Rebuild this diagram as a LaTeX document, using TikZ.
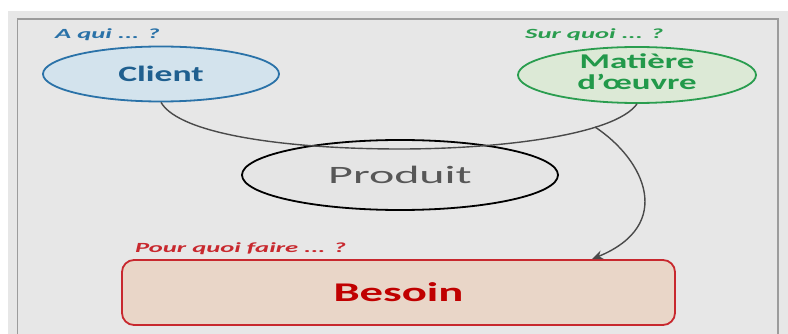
\documentclass[tikz,border=0pt]{standalone}
\usepackage{fontspec}
\setmainfont{Carlito}
\usetikzlibrary{shapes.geometric,arrows.meta}
\definecolor{panel}{HTML}{E7E7E7}
\definecolor{frame}{HTML}{9C9C9C}
\definecolor{cfill}{HTML}{D3E3ED}
\definecolor{cdraw}{HTML}{2A72A8}
\definecolor{ctext}{HTML}{1F5F8F}
\definecolor{mfill}{HTML}{DCE9D6}
\definecolor{mdraw}{HTML}{2A9D4F}
\definecolor{mtext}{HTML}{22994A}
\definecolor{bfill}{HTML}{E9D6C8}
\definecolor{bdraw}{HTML}{C8282E}
\definecolor{btext}{HTML}{C00000}
\definecolor{ptext}{HTML}{575757}
\definecolor{pfill}{HTML}{E5E5E5}
\definecolor{link}{HTML}{4A4A4A}
\newcommand{\wtext}[3]{\scalebox{#1}[1]{\fontsize{#2}{#2}\selectfont #3}}
\tikzset{
  oval/.style={ellipse, line width=1.8pt, inner sep=0pt},
  qlabel/.style={anchor=base west, inner sep=0pt, font=\bfseries\itshape},
  txt/.style={inner sep=0pt, align=center},
  conn/.style={draw=link, line width=1.4pt},
}
\begin{document}
\begin{tikzpicture}[x=1pt,y=-1pt]
\useasboundingbox (0,0) rectangle (788,334);
\fill[white] (0,0) rectangle (788,334);
\fill[panel] (8,11) rectangle (788,334);
\draw[frame, line width=1.6pt] (17.5,334) -- (17.5,19) -- (778,19) -- (778,334);

% nodes
\node[oval, draw=cdraw, fill=cfill, minimum width=236pt, minimum height=55pt] (client) at (161,74) {};
\node[oval, draw=mdraw, fill=mfill, minimum width=238pt, minimum height=56pt] (matiere) at (637,75) {};
\node[oval, draw=black, fill=pfill, minimum width=316pt, minimum height=70pt] (produit) at (400,175) {};
\node[draw=bdraw, fill=bfill, line width=1.8pt, rounded corners=12pt, minimum width=553pt, minimum height=65pt, inner sep=0pt] (besoin) at (398.5,292.5) {};

% texts
\node[txt, text=ctext] (clientt) at (client.center) {\wtext{1.62}{22}{\bfseries Client}};
\node[txt, text=mtext] (matieret) at (matiere.center) {\wtext{1.66}{21}{\bfseries\begin{tabular}{@{}c@{}}Matière\\[-1pt]d’œuvre\end{tabular}}};
\node[txt, text=ptext] (produitt) at (produit.center) {\wtext{1.92}{25}{Produit}};
\node[txt, text=btext] (besoint) at (besoin.center) {\wtext{1.73}{27}{\bfseries Besoin}};

\node[qlabel, text=cdraw] (qclient) at (55,39) {\wtext{1.9}{14}{A qui ... ?}};
\node[qlabel, text=mdraw] (qmat) at (525,39) {\wtext{1.9}{14}{Sur quoi ... ?}};
\node[qlabel, text=bdraw] (qbes) at (135,253) {\wtext{1.9}{14}{Pour quoi faire ... ?}};

% connectors
\coordinate (j) at (595,127);
\coordinate (bot) at (400,149);
\draw[conn] (client.south) .. controls (180,135) and (290,149) .. (bot)
  .. controls (500,149) and (615,135) .. (matiere.south);
\draw[conn, -{Stealth[length=11pt,width=9pt]}] (j) .. controls (645,160) and (675,225) .. (besoin.north -| 592,0);
\end{tikzpicture}
\end{document}
